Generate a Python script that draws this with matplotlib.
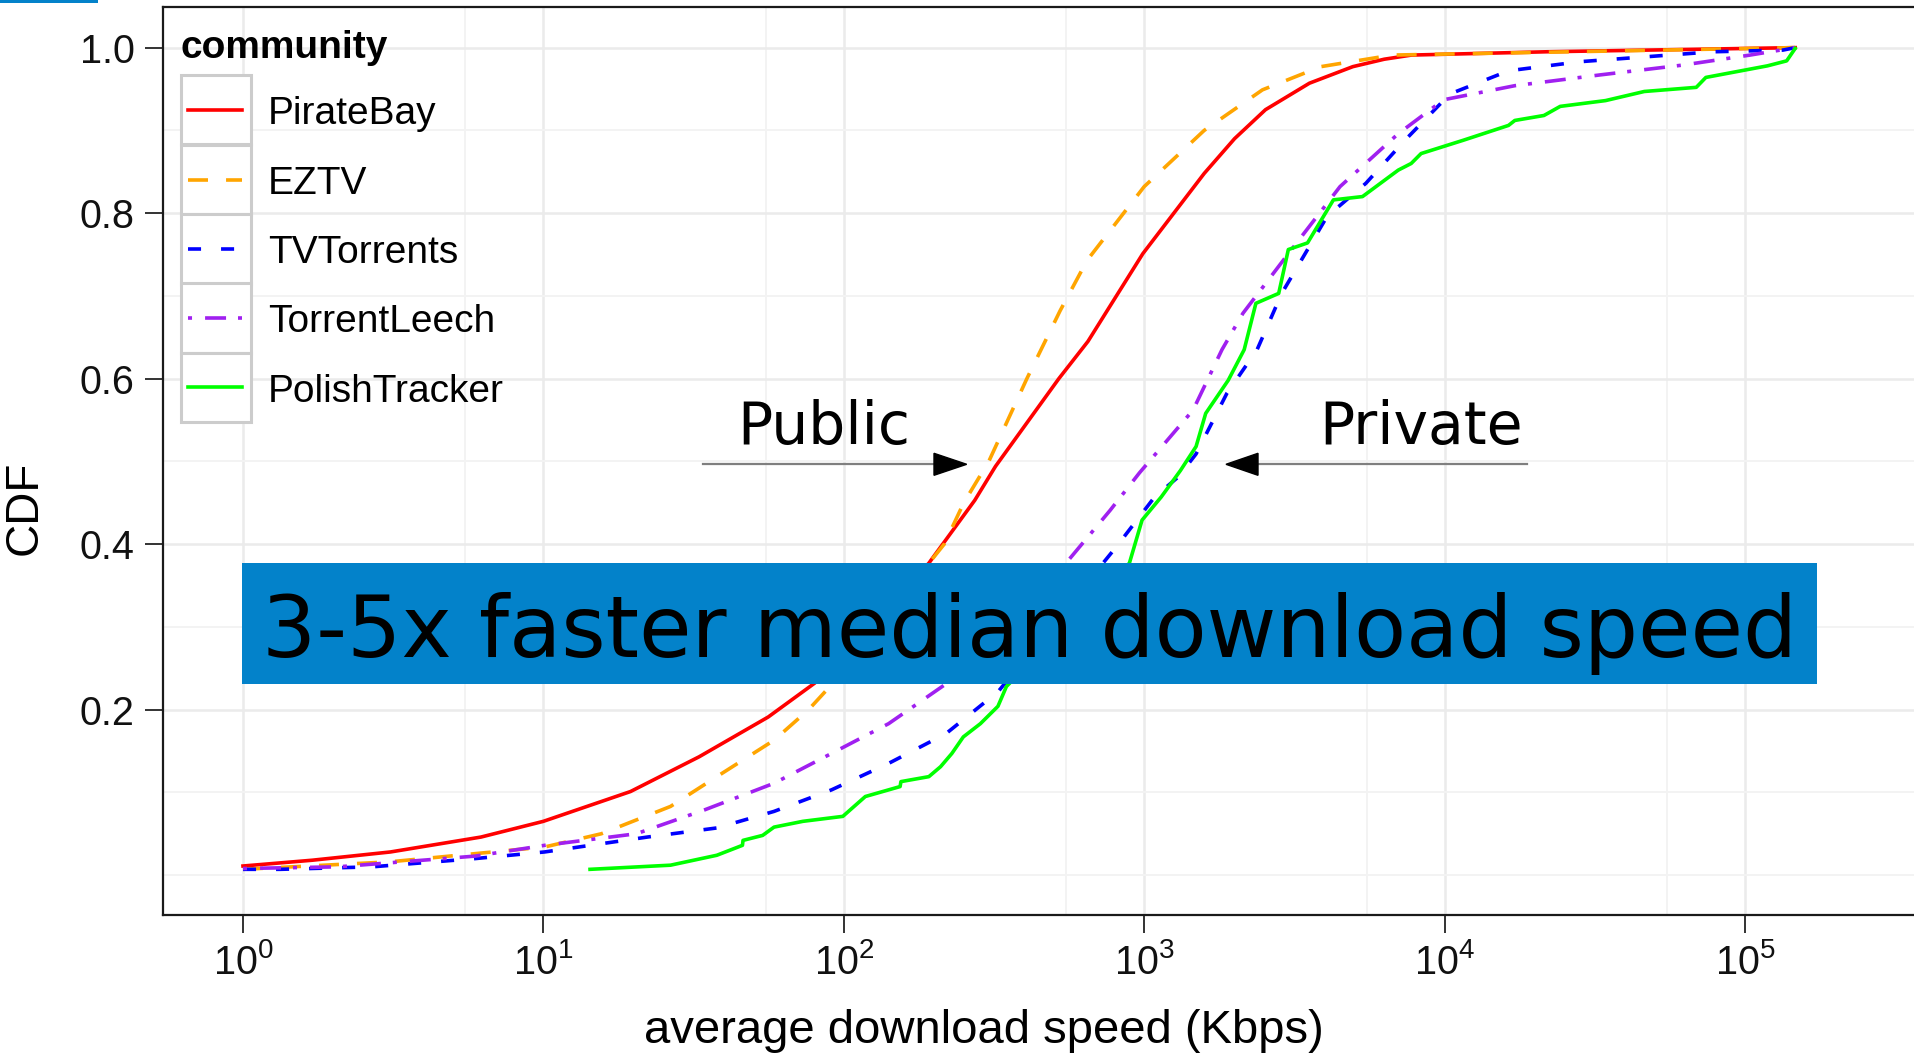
import matplotlib
matplotlib.use("Agg")
import matplotlib.pyplot as plt
from matplotlib.patches import Rectangle, Polygon
from matplotlib.lines import Line2D
from matplotlib.ticker import FixedLocator, NullFormatter

# CDF curves (x in Kbps)
pb_x = [1.0, 1.7, 3.1, 6.2, 10, 19.5, 33, 56, 80, 192, 273, 320, 520, 650, 990,
        1585, 2000, 2535, 3550, 4950, 6300, 7760, 22000, 147000]
pb_y = [0.011, 0.018, 0.028, 0.046, 0.065, 0.101, 0.143, 0.191, 0.232, 0.377, 0.453,
        0.494, 0.600, 0.645, 0.751, 0.848, 0.890, 0.925, 0.957, 0.977, 0.986, 0.991,
        0.995, 1.0]

ez_x = [1.0, 3.07, 10.1, 15.6, 26.5, 37.8, 58.6, 76.4, 91, 216, 251, 304, 407, 525,
        646, 1000, 1585, 2477, 3873, 6683, 147000]
ez_y = [0.007, 0.016, 0.034, 0.050, 0.083, 0.119, 0.163, 0.200, 0.230, 0.400, 0.450,
        0.500, 0.600, 0.682, 0.743, 0.832, 0.900, 0.949, 0.977, 0.991, 1.0]

tv_x = [1.0, 1.33, 2.69, 5.94, 10.1, 22.2, 37.8, 58.6, 91, 141, 219, 327, 809, 1084,
        1297, 1489, 1884, 2377, 2871, 4064, 5470, 7379, 10420, 16330, 28250, 47100,
        78300, 133700, 147000]
tv_y = [0.007, 0.007, 0.010, 0.020, 0.028, 0.046, 0.057, 0.077, 0.103, 0.135, 0.171,
        0.222, 0.397, 0.457, 0.481, 0.509, 0.582, 0.635, 0.703, 0.796, 0.836, 0.888,
        0.944, 0.972, 0.983, 0.989, 0.995, 0.997, 1.0]

tl_x = [1.0, 2.07, 5.94, 10.1, 20.4, 34.5, 58.6, 91, 141, 229, 561, 771, 964, 1455,
        1816, 2133, 3020, 4487, 7015, 9931, 17140, 32900, 62400, 104000, 147000]
tl_y = [0.008, 0.010, 0.023, 0.036, 0.050, 0.079, 0.111, 0.147, 0.183, 0.236, 0.381,
        0.441, 0.486, 0.562, 0.635, 0.679, 0.751, 0.832, 0.896, 0.937, 0.954, 0.967,
        0.979, 0.991, 1.0]

pt_x = [14.3, 26.5, 37.8, 46, 46.2, 53.7, 58.6, 73.1, 99.3, 118, 154, 155, 192, 210,
        229, 250, 285, 326, 348, 893, 984, 1140, 1321, 1489, 1603, 1905, 2153, 2355,
        2805, 3020, 3499, 4266, 5333, 7015, 7745, 8356, 11530, 16330, 17140, 21430,
        24270, 34360, 46240, 68870, 74130, 118900, 137700, 147000]
pt_y = [0.007, 0.012, 0.024, 0.036, 0.042, 0.048, 0.058, 0.065, 0.071, 0.095, 0.107,
        0.113, 0.119, 0.131, 0.147, 0.167, 0.183, 0.204, 0.228, 0.377, 0.429, 0.457,
        0.489, 0.518, 0.558, 0.598, 0.635, 0.691, 0.703, 0.756, 0.764, 0.816, 0.820,
        0.852, 0.860, 0.872, 0.888, 0.906, 0.912, 0.918, 0.929, 0.936, 0.947, 0.952,
        0.964, 0.978, 0.984, 0.999]

names = ["PirateBay", "EZTV", "TVTorrents", "TorrentLeech", "PolishTracker"]
colors = ["#FF0000", "#FFA500", "#0000FF", "#A020F0", "#00FF00"]
styles = ["-", (0, (14.4, 13)), (0, (9.4, 14.4)), (0, (2.9, 9.4, 15.1, 8.6)), "-"]
series = [(pb_x, pb_y), (ez_x, ez_y), (tv_x, tv_y), (tl_x, tl_y), (pt_x, pt_y)]

x_major = [1, 10, 100, 1000, 10000, 100000]
x_minor = [5.5, 55, 550, 5500, 55000]
y_major = [0.2, 0.4, 0.6, 0.8, 1.0]
y_minor = [0.0, 0.1, 0.3, 0.5, 0.7, 0.9]

W, H = 1915, 1054
BLUE = "#0382CA"

plt.rcParams["font.family"] = ["Liberation Sans", "DejaVu Sans"]
plt.rcParams["lines.scale_dashes"] = False


def fx(x):
    return x / W


def fy(y):
    return 1 - y / H


fig = plt.figure(figsize=(W / 100, H / 100), dpi=100)
ax = fig.add_axes([fx(162.6), fy(915), (1960 - 162.6) / W, (915 - 6.5) / H])
ax.set_xscale("log")
ax.set_xlim(10 ** -0.2676, 10 ** 5.716)
ax.set_ylim(-0.0482, 1.0497)

ax.xaxis.set_major_locator(FixedLocator(x_major))
ax.xaxis.set_minor_locator(FixedLocator(x_minor))
ax.xaxis.set_minor_formatter(NullFormatter())
ax.yaxis.set_major_locator(FixedLocator(y_major))
ax.yaxis.set_minor_locator(FixedLocator(y_minor))
ax.set_yticklabels(["%.1f" % v for v in y_major])

ax.set_axisbelow(True)
ax.grid(which="major", color="#EBEBEB", lw=1.8)
ax.grid(which="minor", color="#F3F3F3", lw=1.4)
ax.tick_params(which="major", length=13, width=1.4, color="#333333",
               labelsize=28.5, labelcolor="#111111", pad=7)
ax.tick_params(which="minor", length=0)
for s in ["left", "bottom", "top"]:
    ax.spines[s].set_color("#1a1a1a")
    ax.spines[s].set_linewidth(1.6)
ax.spines["right"].set_visible(False)

for (xs, ys), c, ls in zip(series, colors, styles):
    ax.plot(xs, ys, color=c, linestyle=ls, lw=2.6, dash_capstyle="butt", zorder=3)

# axis titles
fig.text(fx(25), fy(508), "CDF", rotation=90, ha="center", va="center", fontsize=33)
fig.text(fx(984), fy(1043), "average download speed (Kbps)", ha="center",
         va="baseline", fontsize=34)

# legend
fig.text(fx(180.7), fy(58.3), "community", fontsize=28, fontweight="bold",
         ha="left", va="baseline")
key_tops = [75, 145, 214.3, 283.3, 352.7]
for top, name, c, ls in zip(key_tops, names, colors, styles):
    fig.add_artist(Rectangle((fx(180.7), fy(top + 69.3)), 70.2 / W, 69.3 / H,
                             transform=fig.transFigure, facecolor="white",
                             edgecolor="#CCCCCC", lw=2.2, zorder=4))
    cy = top + 34.65
    fig.add_artist(Line2D([fx(187.7), fx(242.4)], [fy(cy), fy(cy)], color=c,
                          linestyle=ls, lw=2.6, dash_capstyle="butt",
                          transform=fig.transFigure, zorder=5))
    fig.text(fx(268), fy(cy + 14.5), name, fontsize=28, ha="left", va="baseline",
             zorder=5)

# Public / Private arrows
ay = 464.3
fig.add_artist(Line2D([fx(703), fx(934)], [fy(ay), fy(ay)], color="#7F7F7F", lw=1.6,
                      transform=fig.transFigure, zorder=4))
fig.add_artist(Polygon([(fx(934), fy(ay - 11)), (fx(934), fy(ay + 11)),
                        (fx(966.7), fy(ay))], closed=True, color="black",
                       transform=fig.transFigure, zorder=4))
fig.add_artist(Line2D([fx(1258), fx(1526.7)], [fy(ay), fy(ay)], color="#7F7F7F", lw=1.6,
                      transform=fig.transFigure, zorder=4))
fig.add_artist(Polygon([(fx(1258), fy(ay - 11)), (fx(1258), fy(ay + 11)),
                        (fx(1226), fy(ay))], closed=True, color="black",
                       transform=fig.transFigure, zorder=4))
fig.text(fx(824), fy(444), "Public", family="DejaVu Sans", fontsize=42,
         ha="center", va="baseline", zorder=5)
fig.text(fx(1421.5), fy(444), "Private", family="DejaVu Sans", fontsize=42,
         ha="center", va="baseline", zorder=5)

# callout banner
fig.add_artist(Rectangle((fx(241.9), fy(684)), (1816.7 - 241.9) / W, (684 - 562.7) / H,
                         transform=fig.transFigure, facecolor=BLUE, edgecolor="none",
                         zorder=6))
fig.text(fx(1029.5), fy(656.7), "3-5x faster median download speed",
         family="DejaVu Sans", fontsize=61.4, ha="center", va="baseline", zorder=7)

# small blue strip in the corner
fig.add_artist(Rectangle((0, fy(2.5)), 98 / W, 2.5 / H, transform=fig.transFigure,
                         facecolor=BLUE, edgecolor="none", zorder=6))

fig.savefig("out.png", dpi=100)
